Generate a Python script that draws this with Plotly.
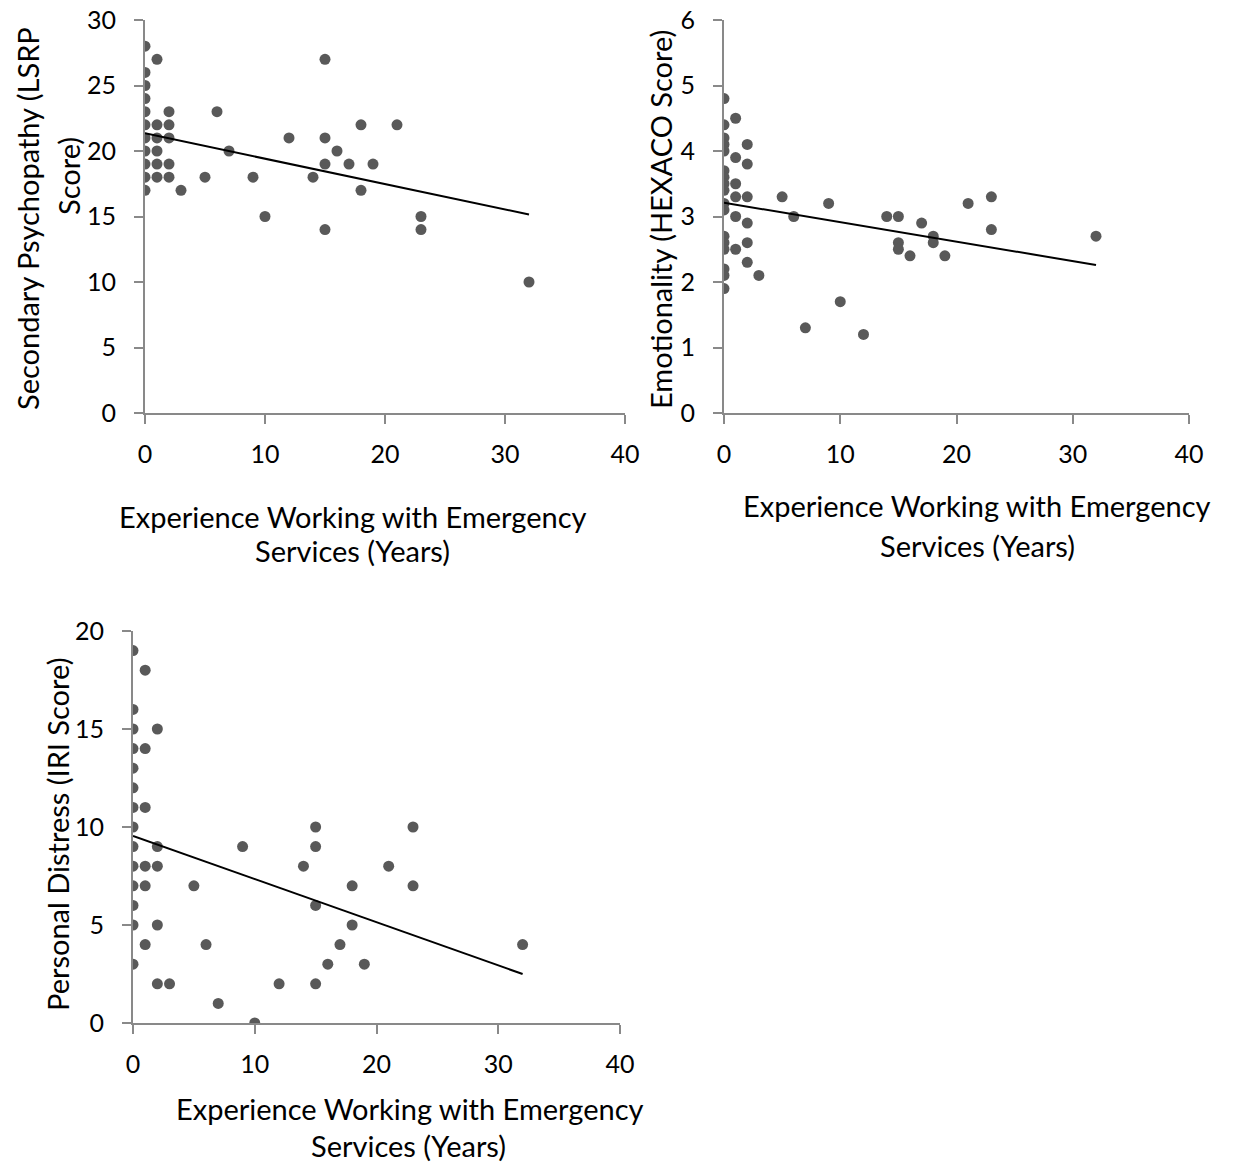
import plotly.graph_objects as go

# ---------------- data ----------------
# Panel 1: Secondary Psychopathy (LSRP) vs experience
lsrp_x = [0]*11 + [1]*6 + [2]*5 + [3, 5, 6, 7, 9, 10, 12, 14, 15, 15, 15, 15, 16, 17, 18, 18, 19, 21, 23, 23, 32]
lsrp_y = [28, 26, 25, 24, 23, 22, 21, 20, 19, 18, 17,
          27, 22, 21, 20, 19, 18,
          23, 22, 21, 19, 18,
          17, 18, 23, 20, 18, 15, 21, 18, 27, 21, 19, 14, 20, 19, 22, 17, 19, 22, 15, 14, 10]

# Panel 2: Emotionality (HEXACO) vs experience
hex_x = [0]*17 + [1]*6 + [2]*6 + [3, 5, 6, 7, 9, 10, 12, 14, 15, 15, 15, 16, 17, 18, 18, 19, 21, 23, 23, 32]
hex_y = [4.8, 4.4, 4.2, 4.1, 4.0, 3.7, 3.6, 3.5, 3.4, 3.2, 3.1, 2.7, 2.6, 2.5, 2.2, 2.1, 1.9,
         4.5, 3.9, 3.5, 3.3, 3.0, 2.5,
         4.1, 3.8, 3.3, 2.9, 2.6, 2.3,
         2.1, 3.3, 3.0, 1.3, 3.2, 1.7, 1.2, 3.0, 3.0, 2.6, 2.5, 2.4, 2.9, 2.7, 2.6, 2.4, 3.2, 3.3, 2.8, 2.7]

# Panel 3: Personal Distress (IRI) vs experience
iri_x = [0]*14 + [1]*6 + [2]*5 + [3, 5, 6, 7, 9, 10, 12, 14, 15, 15, 15, 15, 16, 17, 18, 18, 19, 21, 23, 23, 32]
iri_y = [19, 16, 15, 14, 13, 12, 11, 10, 9, 8, 7, 6, 5, 3,
         18, 14, 11, 8, 7, 4,
         15, 9, 8, 5, 2,
         2, 7, 4, 1, 9, 0, 2, 8, 10, 9, 6, 2, 3, 4, 7, 5, 3, 8, 10, 7, 4]

# Linear trend lines (end points)
trend_x = [0, 32]
lsrp_trend = [21.35, 15.15]
hex_trend = [3.21, 2.26]
iri_trend = [9.55, 2.5]

x_ticks = [0, 10, 20, 30, 40]
x_title_1 = "Experience Working with Emergency"
x_title_2 = "Services (Years)"
y_titles = ["Secondary Psychopathy (LSRP", "Score)",
            "Emotionality (HEXACO Score)", "Personal Distress (IRI Score)"]

W, H = 1233, 1162
FONT = "Lato"
AXCOL = "#898989"
DOT = "#595959"


def px_x(p):
    return p / W


def px_y(p):
    return 1 - p / H


panels = [
    dict(x=lsrp_x, y=lsrp_y, t=lsrp_trend, yr=[0, 30], dt=5, xd=(145, 625), yd=(20, 413)),
    dict(x=hex_x, y=hex_y, t=hex_trend, yr=[0, 6], dt=1, xd=(724, 1189), yd=(20, 413)),
    dict(x=iri_x, y=iri_y, t=iri_trend, yr=[0, 20], dt=5, xd=(133, 620), yd=(631, 1023)),
]

fig = go.Figure()
layout = dict(width=W, height=H, margin=dict(l=0, r=0, t=0, b=0, pad=0, autoexpand=False),
              paper_bgcolor="white", plot_bgcolor="white", showlegend=False,
              font=dict(family=FONT, size=24, color="black"))

for i, p in enumerate(panels, start=1):
    xa = "x" if i == 1 else f"x{i}"
    ya = "y" if i == 1 else f"y{i}"
    fig.add_trace(go.Scatter(x=p["x"], y=p["y"], mode="markers", xaxis=xa, yaxis=ya,
                             marker=dict(size=11, color=DOT), hoverinfo="skip"))
    fig.add_trace(go.Scatter(x=trend_x, y=p["t"], mode="lines", xaxis=xa, yaxis=ya,
                             line=dict(color="black", width=2), hoverinfo="skip"))
    common = dict(showline=True, linecolor=AXCOL, linewidth=2, showgrid=False, zeroline=False,
                  ticks="outside", ticklen=9, tickwidth=2, tickcolor=AXCOL, automargin=False,
                  tickfont=dict(family=FONT, size=25, color="black"))
    layout["xaxis" if i == 1 else f"xaxis{i}"] = dict(
        domain=[px_x(p["xd"][0]), px_x(p["xd"][1])], range=[0, 40], tickvals=x_ticks,
        anchor=ya, ticklabelstandoff=9, **common)
    layout["yaxis" if i == 1 else f"yaxis{i}"] = dict(
        domain=[px_y(p["yd"][1]), px_y(p["yd"][0])], range=p["yr"], dtick=p["dt"],
        anchor=xa, ticklabelstandoff=13, **common)


def ann(text, x, y, angle=0):
    return dict(text=text, x=px_x(x), y=px_y(y), xref="paper", yref="paper",
                xanchor="center", yanchor="middle", showarrow=False, textangle=angle,
                font=dict(family=FONT, size=29, color="black"))


annotations = [
    ann(x_title_1, 353, 516), ann(x_title_2, 352, 550),
    ann(x_title_1, 977, 506), ann(x_title_2, 977, 545),
    ann(x_title_1, 410, 1108), ann(x_title_2, 408, 1145),
    ann(y_titles[0], 28, 219, -90), ann(y_titles[1], 68, 176, -90),
    ann(y_titles[2], 660, 220, -90),
    ann(y_titles[3], 57, 835, -90),
]
layout["annotations"] = annotations
fig.update_layout(**layout)
fig.write_html("out.html", config={"displayModeBar": False},
               post_script="document.body.style.margin='0';document.body.style.overflow='hidden';")
